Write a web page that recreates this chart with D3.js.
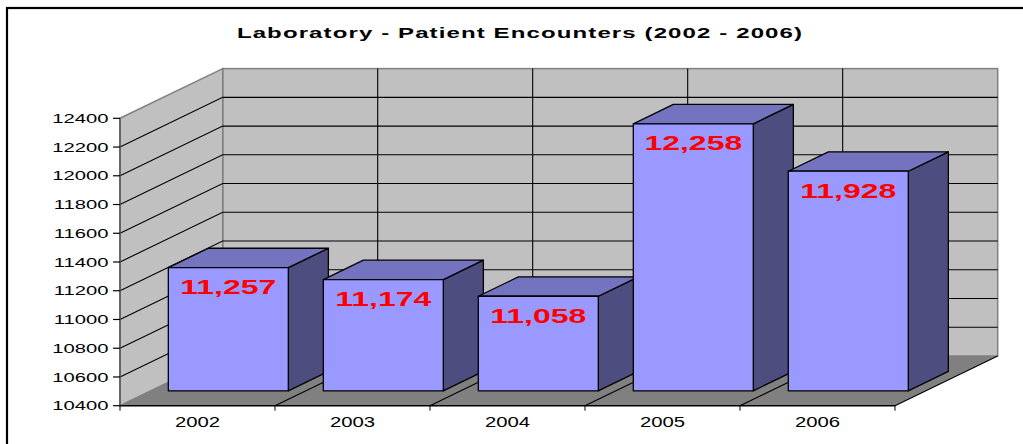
<!DOCTYPE html>
<html>
<head>
<meta charset="utf-8">
<script src="https://cdn.jsdelivr.net/npm/d3@7/dist/d3.min.js"></script>
<style>
  html, body { margin: 0; padding: 0; background: #ffffff; }
  svg { display: block; }
  text { font-family: Arial, "Liberation Sans", sans-serif; }
</style>
</head>
<body>
<svg id="chart" width="1023" height="444"></svg>
<script>
// ---- data ----
const title = "Laboratory - Patient Encounters (2002 - 2006)";
const categories = ["2002", "2003", "2004", "2005", "2006"];
const values = [11257, 11174, 11058, 12258, 11928];
const valueLabels = ["11,257", "11,174", "11,058", "12,258", "11,928"];
const yTicks = [10400, 10600, 10800, 11000, 11200, 11400, 11600, 11800, 12000, 12200, 12400];

// ---- layout ----
const svg = d3.select("#chart");
const DX = 102.7, DY = -49.7;           // full depth offset of the 3D box
const D0 = 0.30, D1 = 0.69;             // bar depth range (fraction)
const x = d3.scaleBand().domain(categories).range([120, 895]).paddingInner(0.2258).paddingOuter(0.113);
const y = d3.scaleLinear().domain([10400, 12400]).range([405.7, 118.3]);
const step = x.step();
const x0 = 120, x1 = 895;
const bounds = d3.range(categories.length + 1).map(i => x0 + i * step);
const P = (xf, yf, d) => [xf + d * DX, yf + d * DY];

// frame
svg.append("rect").attr("x", 7).attr("y", 8).attr("width", 1100).attr("height", 500)
  .attr("fill", "none").attr("stroke", "#000").attr("stroke-width", 2.2);

// title
svg.append("text").attr("transform", "translate(520,38.3) scale(1.6,1)")
  .attr("text-anchor", "middle").attr("font-weight", "bold").attr("font-size", 15)
  .attr("letter-spacing", 0.7).attr("fill", "#000").text(title);

const yMin = y.domain()[0], yMax = y.domain()[1];

// back wall
const bwTL = P(x0, y(yMax), 1), bwBR = P(x1, y(yMin), 1);
svg.append("rect").attr("x", bwTL[0]).attr("y", bwTL[1])
  .attr("width", bwBR[0] - bwTL[0]).attr("height", bwBR[1] - bwTL[1])
  .attr("fill", "#C0C0C0").attr("stroke", "#808080").attr("stroke-width", 1.5);

// left wall
const lw = [P(x0, y(yMax), 0), P(x0, y(yMax), 1), P(x0, y(yMin), 1), P(x0, y(yMin), 0)];
svg.append("polygon").attr("points", lw.map(p => p.join(",")).join(" "))
  .attr("fill", "#C0C0C0").attr("stroke", "#808080").attr("stroke-width", 1.5);

// gridlines on walls
const inner = yTicks.filter(v => v > yMin && v < yMax);
inner.forEach(v => {
  const a = P(x0, y(v), 0), b = P(x0, y(v), 1), c = P(x1, y(v), 1);
  svg.append("polyline").attr("points", [a, b, c].map(p => p.join(",")).join(" "))
    .attr("fill", "none").attr("stroke", "#000").attr("stroke-width", 1.1);
});
bounds.slice(1, -1).forEach(bx => {
  const a = P(bx, y(yMax), 1), b = P(bx, y(yMin), 1);
  svg.append("line").attr("x1", a[0]).attr("y1", a[1]).attr("x2", b[0]).attr("y2", b[1])
    .attr("stroke", "#000").attr("stroke-width", 1.1);
});

// floor
const fl = [P(x0, y(yMin), 0), P(x1, y(yMin), 0), P(x1, y(yMin), 1), P(x0, y(yMin), 1)];
svg.append("polygon").attr("points", fl.map(p => p.join(",")).join(" "))
  .attr("fill", "#808080").attr("stroke", "none");
bounds.slice(1).forEach(bx => {
  const a = P(bx, y(yMin), 0), b = P(bx, y(yMin), 1);
  svg.append("line").attr("x1", a[0]).attr("y1", a[1]).attr("x2", b[0]).attr("y2", b[1])
    .attr("stroke", "#000").attr("stroke-width", 1.1);
});
svg.append("line").attr("x1", fl[0][0]).attr("y1", fl[0][1]).attr("x2", fl[1][0]).attr("y2", fl[1][1])
  .attr("stroke", "#000").attr("stroke-width", 1.5);

// y axis (front-left edge)
svg.append("line").attr("x1", x0).attr("y1", y(yMax)).attr("x2", x0).attr("y2", y(yMin))
  .attr("stroke", "#555").attr("stroke-width", 1.5);
const yAx = svg.append("g");
yTicks.forEach(v => {
  yAx.append("line").attr("x1", x0 - 7).attr("x2", x0).attr("y1", y(v)).attr("y2", y(v))
    .attr("stroke", "#000").attr("stroke-width", 1.2);
  yAx.append("text").attr("transform", `translate(${x0 - 11.5},${y(v) + 4.7}) scale(1.52,1)`)
    .attr("text-anchor", "end").attr("font-size", 13.3).attr("fill", "#000").text(v);
});

// x axis ticks & labels
bounds.forEach(bx => {
  svg.append("line").attr("x1", bx).attr("x2", bx).attr("y1", y(yMin)).attr("y2", y(yMin) + 5)
    .attr("stroke", "#000").attr("stroke-width", 1);
});
categories.forEach(c => {
  svg.append("text").attr("transform", `translate(${x(c) + x.bandwidth() / 2},426.7) scale(1.45,1)`)
    .attr("text-anchor", "middle").attr("font-size", 14).attr("fill", "#000").text(c);
});

// bars
categories.forEach((c, i) => {
  const xl = x(c), xr = x(c) + x.bandwidth();
  const yt = y(values[i]), yb = y(yMin);
  const g = svg.append("g").attr("stroke", "#000").attr("stroke-width", 1.3).attr("stroke-linejoin", "round");
  const fTL = P(xl, yt, D0), fTR = P(xr, yt, D0), fBR = P(xr, yb, D0), fBL = P(xl, yb, D0);
  const bTL = P(xl, yt, D1), bTR = P(xr, yt, D1), bBR = P(xr, yb, D1);
  g.append("polygon").attr("points", [fTR, bTR, bBR, fBR].map(p => p.join(",")).join(" "))
    .attr("fill", "#4D4D80");
  g.append("polygon").attr("points", [fTL, fTR, bTR, bTL].map(p => p.join(",")).join(" "))
    .attr("fill", "#7373BF");
  g.append("polygon").attr("points", [fTL, fTR, fBR, fBL].map(p => p.join(",")).join(" "))
    .attr("fill", "#9999FF");
  svg.append("text")
    .attr("transform", `translate(${(fTL[0] + fTR[0]) / 2},${fTL[1] + 26.4}) scale(1.56,1)`)
    .attr("text-anchor", "middle").attr("font-weight", "bold").attr("font-size", 20.5)
    .attr("fill", "#FF0000").text(valueLabels[i]);
});
</script>
</body>
</html>
